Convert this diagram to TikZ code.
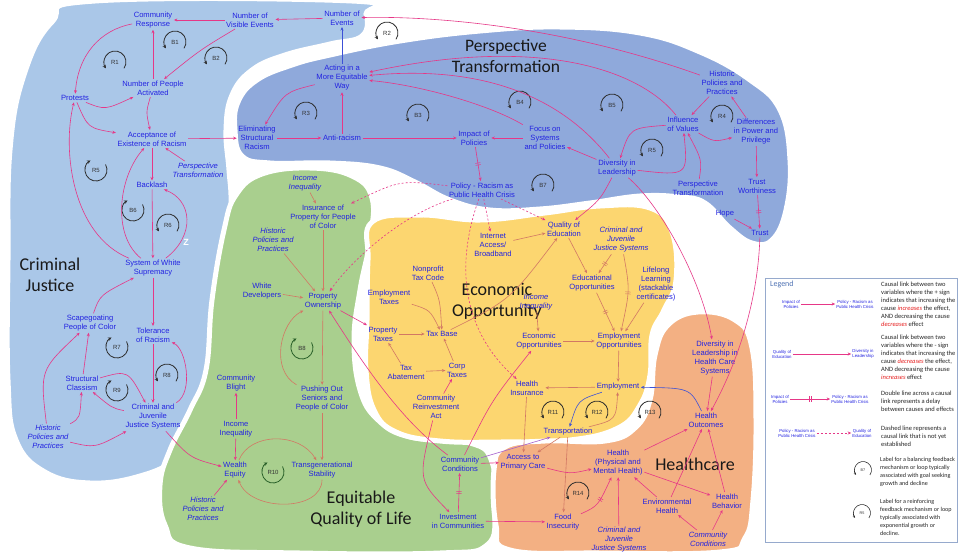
\documentclass[tikz,border=0pt]{standalone}
\usepackage{fontspec}
\setmainfont{Liberation Sans}
\newfontfamily\calib{Carlito}
\usetikzlibrary{arrows.meta,decorations.markings}
\definecolor{cjblue}{RGB}{170,199,232}
\definecolor{ptblue}{RGB}{143,169,219}
\definecolor{eqgreen}{RGB}{169,207,142}
\definecolor{ecyel}{RGB}{252,214,112}
\definecolor{hcor}{RGB}{243,176,131}
\definecolor{vtxt}{RGB}{35,35,225}
\definecolor{lpink}{RGB}{230,55,135}
\definecolor{lsal}{RGB}{210,120,100}
\definecolor{lblu}{RGB}{60,80,215}
\definecolor{lpur}{RGB}{165,95,205}
\definecolor{loopc}{RGB}{45,45,45}
\definecolor{loopg}{RGB}{40,95,40}
\definecolor{legb}{RGB}{150,170,205}
\definecolor{legt}{RGB}{80,115,180}
\definecolor{redt}{RGB}{230,30,30}
\begin{document}
\begin{tikzpicture}[x=1pt,y=-1pt,
 v/.style={font=\fontsize{7.6}{9}\selectfont, text=vtxt, align=center, inner sep=1.5pt},
 vi/.style={v, font=\fontsize{7.6}{9}\selectfont\itshape},
 big/.style={font=\calib\fontsize{18}{21}\selectfont, text=black!90, align=center, inner sep=0pt},
 lk/.style={draw=lpink, line width=.6pt, -{Stealth[length=3.5pt,width=3pt]}},
 lkb/.style={lk, draw=lsal},
 lku/.style={lk, draw=lblu},
 lkv/.style={lk, draw=lpur},
 lkd/.style={lk, dash pattern=on 2pt off 2pt},
 dm/.style={postaction={decorate,decoration={markings,mark=at position #1 with {\draw[-,solid,lpink,line width=.5pt] (-1pt,-2.6pt)--(-1pt,2.6pt) (1pt,-2.6pt)--(1pt,2.6pt);}}}},
 dm/.default=0.5,
 dmb/.style={postaction={decorate,decoration={markings,mark=at position #1 with {\draw[-,solid,lsal,line width=.5pt] (-1pt,-2.6pt)--(-1pt,2.6pt) (1pt,-2.6pt)--(1pt,2.6pt);}}}},
 dmb/.default=0.5,
 blob/.style={draw=white, line width=5pt},
 ls/.style={font=\fontsize{4.3}{5}\selectfont, text=vtxt, align=center, inner sep=1pt},
 ld/.style={font=\calib\fontsize{6.5}{8}\selectfont, align=left, anchor=west, inner sep=0pt, text=black!85},
 loopa/.pic={\draw[loopc,line width=.8pt,-{Stealth[length=3.5pt,width=3.5pt]}] (-35:11pt) arc[start angle=-35,end angle=215,radius=11pt];
   \node[font=\fontsize{6}{6}\selectfont,text=black!80,inner sep=0pt] {#1};},
 loopb/.pic={\draw[loopc,line width=.8pt,-{Stealth[length=3.5pt,width=3.5pt]}] (30:11pt) arc[start angle=30,end angle=-240,radius=11pt];
   \node[font=\fontsize{6}{6}\selectfont,text=black!80,inner sep=0pt] {#1};},
 loopg/.pic={\draw[loopg,line width=.8pt,-{Stealth[length=3.5pt,width=3.5pt]}] (30:11pt) arc[start angle=30,end angle=-240,radius=11pt];
   \node[font=\fontsize{6}{6}\selectfont,text=black!80,inner sep=0pt] {#1};},
 loops/.pic={\draw[loopc,line width=.6pt,-{Stealth[length=2.5pt,width=2.5pt]}] (-35:8.5pt) arc[start angle=-35,end angle=215,radius=8.5pt];
   \node[font=\fontsize{3.8}{4}\selectfont,text=black!80,inner sep=0pt] {#1};}
]
\useasboundingbox (0,0) rectangle (958,554);
\fill[white] (0,0) rectangle (958,554);

% ---------- regions ----------
\path[fill=cjblue, blob] plot[smooth cycle, tension=.7] coordinates {(95,1) (352,1) (366,14) (362,36) (330,44) (285,55) (252,70) (232,95) (226,130) (229,170) (231,205) (227,260) (222,320) (212,380) (196,425) (176,458) (140,476) (90,483) (45,472) (16,440) (8,380) (8,260) (10,150) (24,75) (52,22)};
\path[fill=ptblue, blob] plot[smooth cycle, tension=.7] coordinates {(238,102) (257,80) (292,65) (330,55) (400,41) (480,31) (560,27) (640,33) (700,52) (750,80) (780,110) (790,160) (786,210) (772,240) (752,243) (730,228) (705,203) (680,197) (640,196) (590,203) (540,209) (490,210) (450,200) (415,182) (380,168) (330,163) (270,163) (242,156) (235,130)};
\path[fill=eqgreen, blob] plot[smooth cycle, tension=.7] coordinates {(236,195) (262,174) (310,168) (352,176) (372,198) (370,240) (360,290) (354,340) (360,390) (378,420) (410,437) (470,443) (492,462) (495,510) (487,545) (440,553) (300,553) (190,548) (165,525) (160,485) (170,450) (190,410) (206,370) (212,300) (224,230)};
\path[fill=ecyel, blob] plot[smooth cycle, tension=.7] coordinates {(372,222) (420,215) (480,220) (545,213) (600,206) (650,208) (672,232) (676,280) (664,310) (652,335) (650,375) (640,405) (618,428) (570,440) (500,442) (440,441) (396,432) (374,410) (366,370) (367,320) (368,260)};
\path[fill=hcor, blob] plot[smooth cycle, tension=.7] coordinates {(494,470) (505,447) (545,441) (605,441) (635,428) (650,400) (655,355) (668,325) (698,312) (735,320) (752,348) (756,420) (753,500) (745,538) (720,552) (600,553) (510,550) (496,525)};

% ---------- region titles ----------
\node[big] (tCJ) at (50,275) {Criminal\\Justice};
\node[big, font=\calib\fontsize{17.5}{21}\selectfont] (tPT) at (506,56) {Perspective\\Transformation};
\node[big] (tEO) at (497,301) {Economic\\Opportunity};
\node[big] (tEQ) at (361,509) {Equitable\\Quality of Life};
\node[big] (tHC) at (695,464) {Healthcare};
\node[font=\bfseries\fontsize{9}{9}\selectfont, text=white] (zz) at (186,242) {Z};

% ---------- nodes: Criminal Justice ----------
\node[v] (cr) at (153,20) {Community\\Response};
\node[v] (nve) at (250,20) {Number of\\Visible Events};
\node[v] (ne) at (342,18) {Number of\\Events};
\node[v] (npa) at (153,88) {Number of People\\Activated};
\node[v] (pro) at (75,98) {Protests};
\node[v] (acc) at (152,139) {Acceptance of\\Existence of Racism};
\node[vi] (ptA) at (198,170) {Perspective\\Transformation};
\node[v] (bl) at (152,185) {Backlash};
\node[v] (sws) at (153,268) {System of White\\Supremacy};
\node[v] (scp) at (90,323) {Scapegoating\\People of Color};
\node[v] (tol) at (153,335) {Tolerance\\of Racism};
\node[v] (scl) at (82,383) {Structural\\Classism};
\node[v] (cjs) at (153,417) {Criminal and\\Juvenile\\Justice Systems};
\node[vi] (hpA) at (48,437) {Historic\\Policies and\\Practices};

% ---------- nodes: Perspective Transformation ----------
\node[v] (act) at (342,78) {Acting in a\\More Equitable\\Way};
\node[v] (esr) at (257,138) {Eliminating\\Structural\\Racism};
\node[v] (ar) at (342,138) {Anti-racism};
\node[v] (imp) at (474,138) {Impact of\\Policies};
\node[v] (foc) at (545,138) {Focus on\\Systems\\and Policies};
\node[v] (pol) at (482,190) {Policy - Racism as\\Public Health Crisis};
\node[v] (inf) at (683,124) {Influence\\of Values};
\node[v] (hpB) at (722,83) {Historic\\Policies and\\Practices};
\node[v] (dpp) at (756,132) {Differences\\in Power and\\Privilege};
\node[v] (dil) at (617,168) {Diversity in\\Leadership};
\node[v] (ptB) at (698,188) {Perspective\\Transformation};
\node[v] (tw) at (757,186) {Trust\\Worthiness};
\node[v] (hope) at (725,214) {Hope};
\node[v] (trust) at (760,233) {Trust};

% ---------- nodes: Equitable Quality of Life ----------
\node[vi] (iiA) at (305,183) {Income\\Inequality};
\node[v] (ins) at (323,217) {Insurance of\\Property for People\\of Color};
\node[vi] (hpC) at (273,240) {Historic\\Policies and\\Practices};
\node[v] (wd) at (262,291) {White\\Developers};
\node[v] (po) at (323,301) {Property\\Ownership};
\node[v] (cb) at (236,383) {Community\\Blight};
\node[v] (iiB) at (236,429) {Income\\Inequality};
\node[v] (we) at (235,470) {Wealth\\Equity};
\node[v] (pos) at (322,399) {Pushing Out\\Seniors and\\People of Color};
\node[v] (ts) at (322,470) {Transgenerational\\Stability};
\node[vi] (hpD) at (203,509) {Historic\\Policies and\\Practices};
\node[v] (cc) at (460,464) {Community\\Conditions};
\node[v] (ic) at (458,521) {Investment\\in Communities};

% ---------- nodes: Economic Opportunity ----------
\node[v] (ia) at (493,245) {Internet\\Access/\\Broadband};
\node[v] (qe) at (564,229) {Quality of\\Education};
\node[vi] (cjB) at (621,240) {Criminal and\\Juvenile\\Justice Systems};
\node[v] (ntc) at (428,273) {Nonprofit\\Tax Code};
\node[v] (et) at (389,297) {Employment\\Taxes};
\node[v] (ptx) at (383,334) {Property\\Taxes};
\node[v] (tb) at (442,334) {Tax Base};
\node[v] (eo) at (592,283) {Educational\\Opportunities};
\node[v] (ll) at (656,284) {Lifelong\\Learning\\(stackable\\certificates)};
\node[vi] (iiC) at (536,302) {Income\\Inequality};
\node[v] (eco) at (539,341) {Economic\\Opportunities};
\node[v] (emo) at (619,341) {Employment\\Opportunities};
\node[v] (ta) at (406,372) {Tax\\Abatement};
\node[v] (ct) at (457,370) {Corp\\Taxes};
\node[v] (cra) at (436,407) {Community\\Reinvestment\\Act};
\node[v] (hi) at (527,388) {Health\\Insurance};
\node[v] (emp) at (618,387) {Employment};
\node[v] (tr) at (568,432) {Transportation};

% ---------- nodes: Healthcare ----------
\node[v] (dhc) at (715,358) {Diversity in\\Leadership in\\Health Care\\Systems};
\node[v] (ho) at (706,420) {Health\\Outcomes};
\node[v] (apc) at (523,462) {Access to\\Primary Care};
\node[v] (hl) at (618,463) {Health\\(Physical and\\Mental Health)};
\node[v] (eh) at (667,506) {Environmental\\Health};
\node[v] (hb) at (727,501) {Health\\Behavior};
\node[v] (fi) at (563,522) {Food\\Insecurity};
\node[vi] (cjC) at (619,540) {Criminal and\\Juvenile\\Justice Systems};
\node[vi] (ccB) at (708,539) {Community\\Conditions};

% ---------- loops ----------
\pic at (175,42) {loopa=B1};
\pic at (216,58) {loopa=B2};
\pic at (115,62) {loopa=R1};
\pic at (387,33) {loopa=R2};
\pic at (96,170) {loopb=R5};
\pic at (133,210) {loopb=B6};
\pic at (168,225) {loopa=R6};
\pic at (117,347) {loopb=R7};
\pic at (167,375) {loopa=R8};
\pic at (117,390) {loopb=R9};
\pic at (306,113) {loopa=R3};
\pic at (418,115) {loopa=B3};
\pic at (520,102) {loopa=B4};
\pic at (612,105) {loopa=B5};
\pic at (652,150) {loopa=R5};
\pic at (722,116) {loopa=R4};
\pic at (543,185) {loopa=B7};
\pic at (302,348) {loopg=B8};
\pic at (273,472) {loopg=R10};
\pic at (553,412) {loopa=R11};
\pic at (597,412) {loopa=R12};
\pic at (650,412) {loopa=R13};
\pic at (578,493) {loopa=R14};

% ---------- links: Criminal Justice ----------
\draw[lk] (nve) -- (cr);
\draw[lk] (ne) -- (nve);
\draw[lk] (nve) .. controls (200,50) .. (npa);
\draw[lk] (npa) -- (cr);
\draw[lk] (cr) .. controls (100,30) and (78,55) .. (pro);
\draw[lk] (pro) .. controls (105,110) .. (npa);
\draw[lk] (npa) .. controls (146,112) .. (acc);
\draw[lk] (pro) .. controls (88,128) .. (acc);
\draw[lk] (acc) -- (esr);
\draw[lk] (acc) -- (bl);
\draw[lk] (ptA) -- (acc);
\draw[lk] (sws) .. controls (112,235) and (118,178) .. (acc);
\draw[lk] (bl) -- (sws);
\draw[lk] (sws) .. controls (196,235) and (192,200) .. (bl);
\draw[lk] (sws) .. controls (72,235) and (62,150) .. (pro);
\draw[lk] (sws) -- (tol);
\draw[lk] (scp) .. controls (100,295) .. (sws);
\draw[lk] (tol) -- (cjs);
\draw[lk] (cjs) .. controls (194,392) and (186,348) .. (tol);
\draw[lk] (hpA) .. controls (40,370) .. (scp);
\draw[lk] (scl) -- (scp);
\draw[lk] (hpA) .. controls (80,418) .. (scl);
\draw[lk] (hpA) .. controls (95,448) .. (cjs);
\draw[lk] (cjs) .. controls (112,408) .. (scl);
\draw[lk] (scl) .. controls (128,370) .. (cjs);
\draw[lk] (cjs) .. controls (190,458) .. (we);

% ---------- links: Perspective Transformation ----------
\draw[lku] (act) -- (ne);
\draw[lk] (hpB) .. controls (560,25) and (430,16) .. (ne);
\draw[lk] (inf) .. controls (640,70) and (540,35) .. (act);
\draw[lk] (dil) .. controls (560,95) and (480,65) .. (act);
\draw[lk] (foc) .. controls (490,105) and (420,85) .. (act);
\draw[lk] (act) .. controls (285,92) .. (esr);
\draw[lk] (ar) -- (act);
\draw[lk] (esr) -- (ar);
\draw[lk] (ar) -- (imp);
\draw[lk] (foc) -- (imp);
\draw[lk, dm] (imp) -- (pol);
\draw[lk] (dil) -- (foc);
\draw[lk] (inf) .. controls (630,128) .. (dil);
\draw[lk] (dil) .. controls (688,176) .. (inf);
\draw[lk] (hpB) -- (inf);
\draw[lk] (inf) .. controls (714,142) .. (dpp);
\draw[lk] (dpp) -- (hpB);
\draw[lk] (dpp) -- (tw);
\draw[lk, dm] (tw) -- (trust);
\draw[lk] (hope) -- (trust);
\draw[lk] (ptB) .. controls (702,160) .. (inf);
\draw[lk] (trust) .. controls (758,300) and (738,362) .. (ho);
\draw[lk] (dil) .. controls (600,200) .. (qe);
\draw[lk] (dil) .. controls (660,205) and (702,280) .. (dhc);
\draw[lkd] (pol) .. controls (400,180) .. (ins);
\draw[lkd] (pol) .. controls (400,215) and (350,262) .. (po);
\draw[lkd] (pol) -- (ia);
\draw[lkd] (pol) -- (qe);
\draw[lkd] (pol) .. controls (450,280) and (472,340) .. (hi);

% ---------- links: Equitable Quality of Life ----------
\draw[lkb] (iiA) -- (ins);
\draw[lkb] (ins) -- (po);
\draw[lkb] (hpC) -- (po);
\draw[lkb] (wd) -- (po);
\draw[lk] (po) -- (ptx);
\draw[lkb] (po) -- (pos);
\draw[lkb] (pos) .. controls (270,370) and (280,322) .. (po);
\draw[lk] (cc) .. controls (400,420) and (362,362) .. (po);
\draw[lkb] (pos) -- (ts);
\draw[lkb] (ts) .. controls (322,512) and (250,512) .. (we);
\draw[lkb] (we) .. controls (250,432) and (300,432) .. (ts);
\draw[lk] (iiB) -- (cb);
\draw[lk] (iiB) -- (we);
\draw[lk] (hpD) -- (we);
\draw[lk, dm] (ic) -- (cc);
\draw[lk] (cra) .. controls (418,480) .. (ic);
\draw[lk] (cc) -- (apc);
\draw[lk] (cra) -- (ct);
\draw[lkv] (cc) -- (tr);
\draw[lk] (ic) -- (fi);
\draw[lk] (cc) .. controls (492,400) .. (eco);

% ---------- links: Economic Opportunity ----------
\draw[lkb] (ia) -- (qe);
\draw[lkb] (tb) .. controls (510,300) .. (qe);
\draw[lkb] (qe) -- (eo);
\draw[lkb, dmb] (cjB) -- (eo);
\draw[lkb, dmb] (eo) -- (emo);
\draw[lkb, dmb] (cjB) .. controls (630,290) .. (emo);
\draw[lkb] (ll) -- (emo);
\draw[lkb] (eco) -- (emo);
\draw[lkb] (iiC) -- (eco);
\draw[lkb] (ntc) .. controls (440,300) .. (tb);
\draw[lkb] (et) .. controls (430,310) .. (tb);
\draw[lkb] (ptx) -- (tb);
\draw[lkb] (ta) -- (ptx);
\draw[lkb] (ta) -- (ct);
\draw[lkb] (ct) -- (tb);
\draw[lkb] (emo) -- (emp);
\draw[lkb] (emp) -- (hi);
\draw[lku] (emp) .. controls (578,400) .. (tr);
\draw[lkb] (tr) .. controls (616,420) .. (emp);
\draw[lkb] (hi) -- (apc);
\draw[lkb] (tr) -- (apc);
\draw[lkb] (tr) -- (fi);

% ---------- links: Healthcare ----------
\draw[lk] (apc) .. controls (570,474) .. (hl);
\draw[lk] (hl) -- (ho);
\draw[lku] (ho) .. controls (690,388) .. (emp);
\draw[lk] (dhc) -- (ho);
\draw[lk] (eh) -- (hl);
\draw[lk] (eh) -- (ho);
\draw[lk] (hb) -- (ho);
\draw[lk] (hl) -- (hb);
\draw[lk] (ccB) -- (eh);
\draw[lk] (ccB) -- (hb);
\draw[lk, dm] (fi) .. controls (598,506) .. (hl);
\draw[lk] (cjC) -- (hl);

% ---------- legend ----------
\draw[legb, line width=.8pt, fill=white] (765,278) rectangle (957,542);
\node[font=\calib\fontsize{8}{9}\selectfont, text=legt, anchor=west, inner sep=0pt] (lgT) at (770,284) {Legend};
\node[ls] (l1a) at (791,304) {Impact of\\Policies};
\node[ls] (l1b) at (855,304) {Policy - Racism as\\Public Health Crisis};
\draw[lk] (l1a) -- (l1b);
\node[ld] (d1) at (881,304) {Causal link between two\\variables where the + sign\\indicates that increasing the\\cause \textcolor{redt}{\itshape increases} the effect,\\AND decreasing the cause\\\textcolor{redt}{\itshape decreases} effect};
\node[ls] (l2a) at (782,354) {Quality of\\Education};
\node[ls] (l2b) at (863,354) {Diversity in\\Leadership};
\draw[lk] (l2a) -- (l2b);
\node[ld] (d2) at (881,357) {Causal link between two\\variables where the - sign\\indicates that increasing the\\cause \textcolor{redt}{\itshape decreases} the effect,\\AND decreasing the cause\\\textcolor{redt}{\itshape increases} effect};
\node[ls] (l3a) at (780,399) {Impact of\\Policies};
\node[ls] (l3b) at (850,399) {Policy - Racism as\\Public Health Crisis};
\draw[lk, dm] (l3a) -- (l3b);
\node[ld] (d3) at (881,401) {Double line across a causal\\link represents a delay\\between causes and effects};
\node[ls] (l4a) at (797,433) {Policy - Racism as\\Public Health Crisis};
\node[ls] (l4b) at (862,433) {Quality of\\Education};
\draw[lkd] (l4a) -- (l4b);
\node[ld] (d4) at (881,436) {Dashed line represents a\\causal link that is not yet\\established};
\pic at (863,470) {loops=B7};
\node[ld, font=\calib\fontsize{6.1}{8}\selectfont] (d5) at (880,472) {Label for a balancing feedback\\mechanism or loop typically\\associated with goal seeking\\growth and decline};
\pic at (862,513) {loops=R5};
\node[ld, font=\calib\fontsize{6.1}{8}\selectfont] (d6) at (880,517) {Label for a reinforcing\\feedback mechanism or loop\\typically associated with\\exponential growth or\\decline.};
\end{tikzpicture}
\end{document}
